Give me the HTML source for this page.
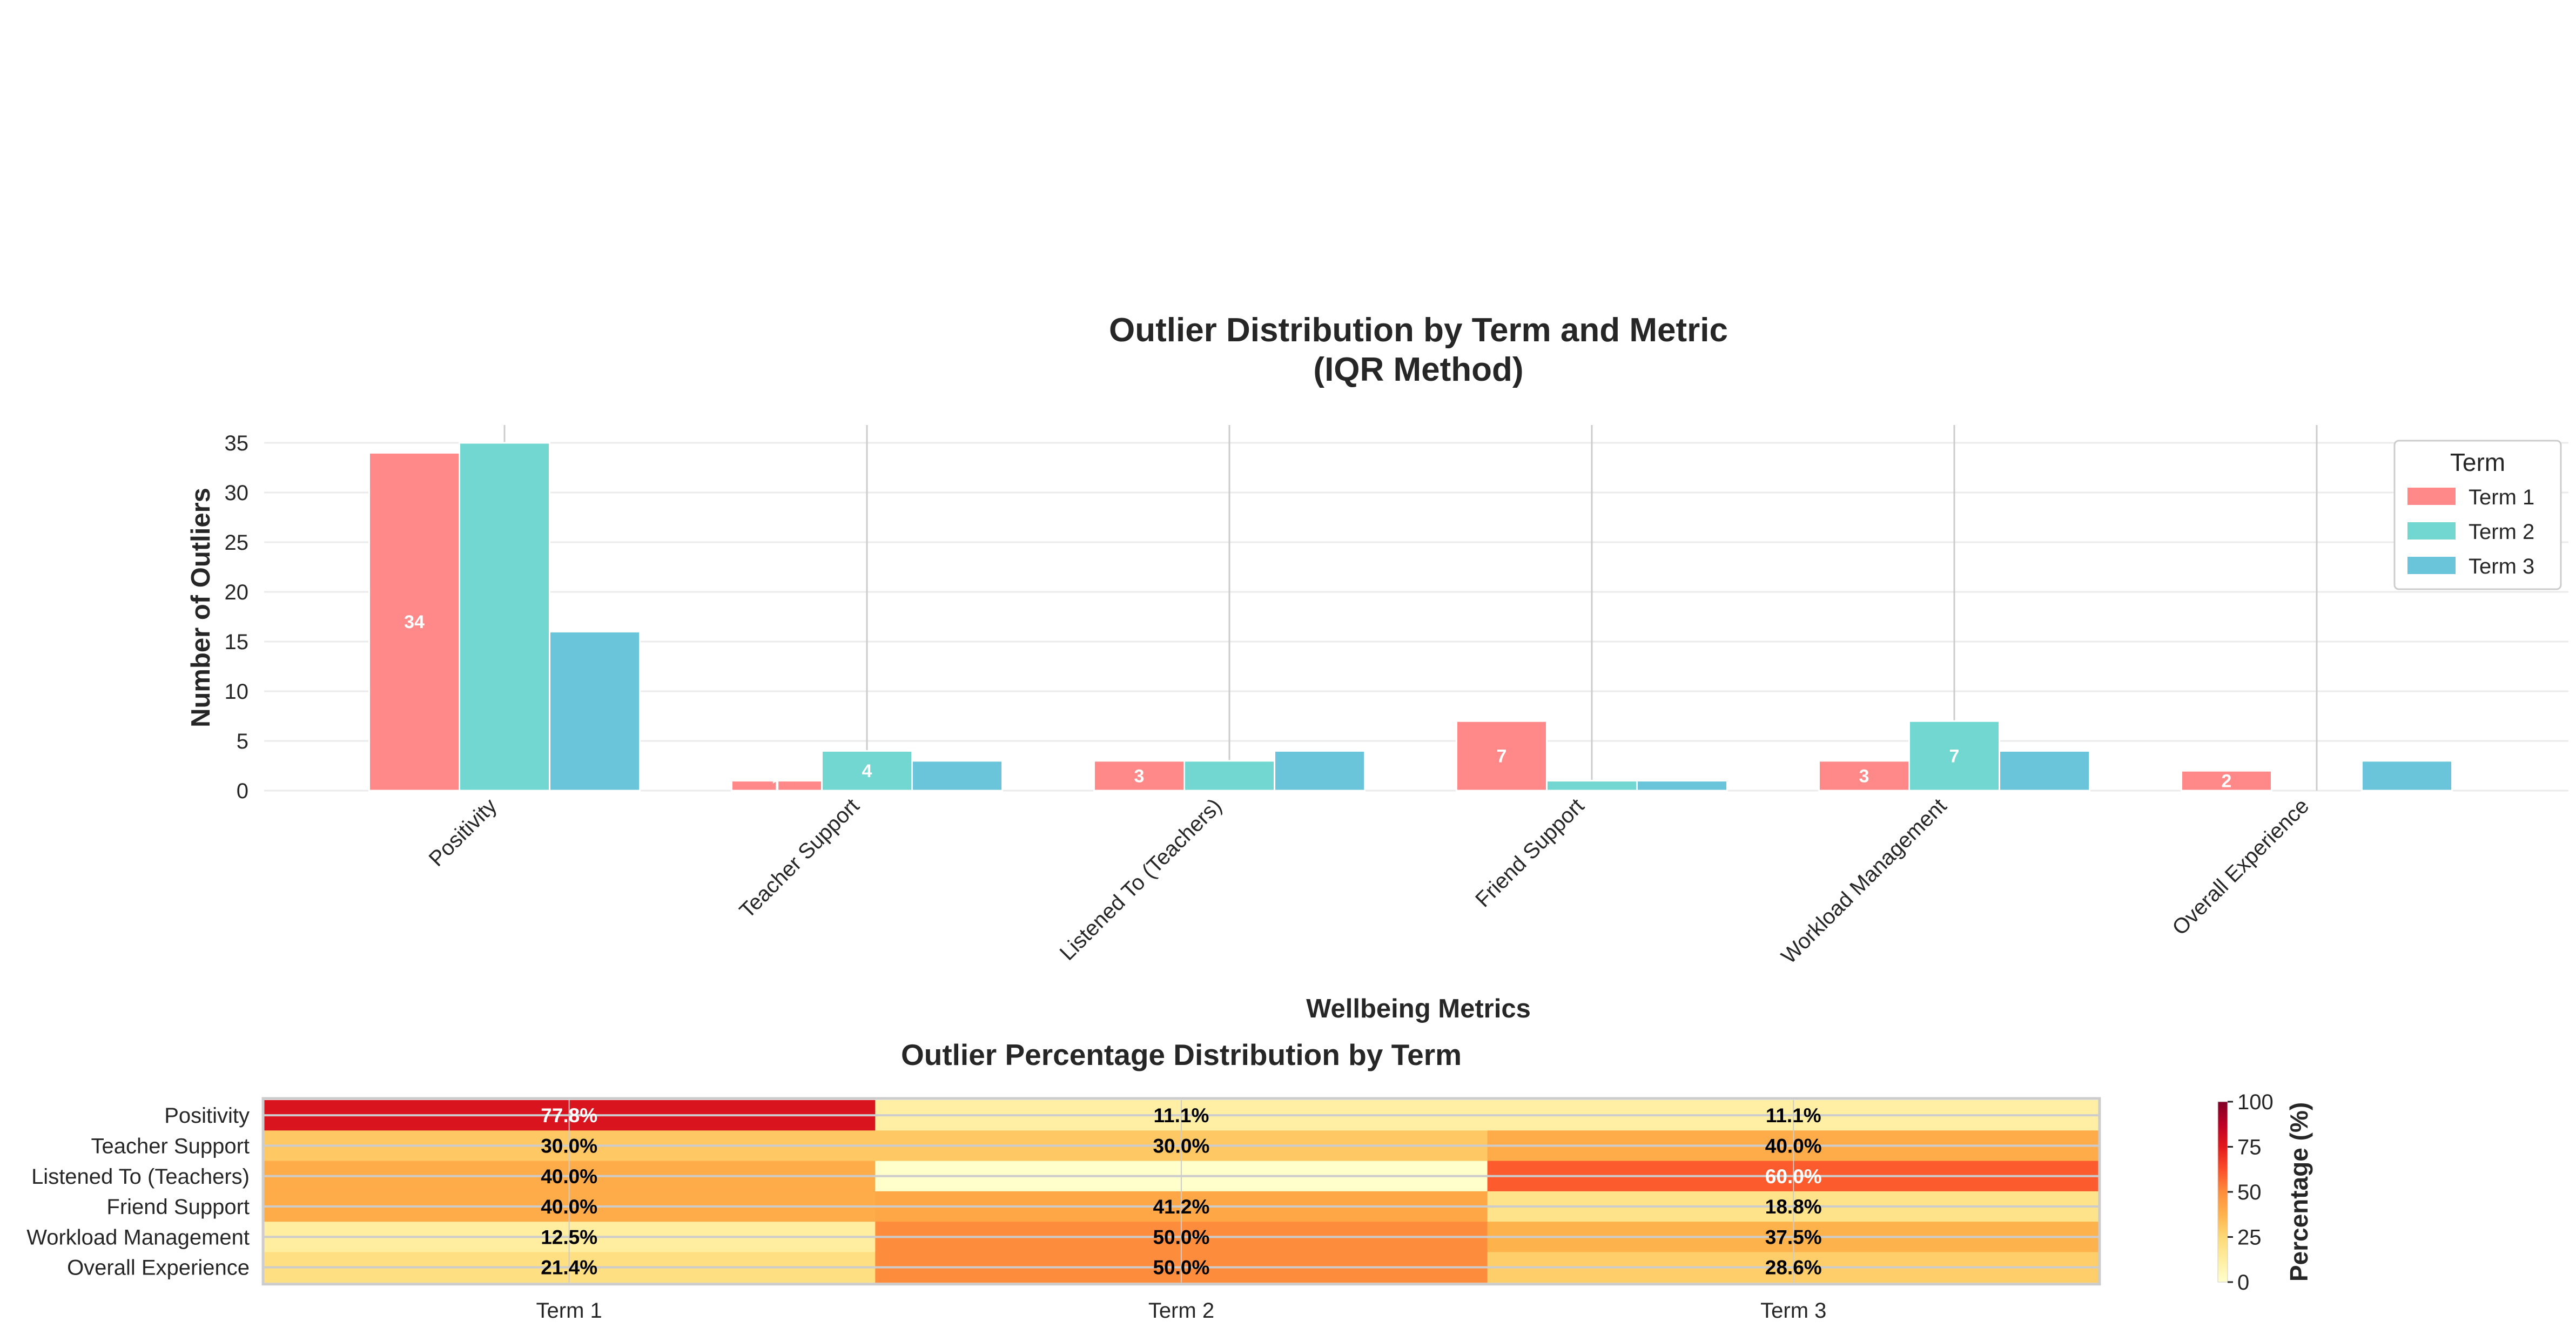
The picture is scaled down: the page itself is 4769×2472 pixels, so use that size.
<!DOCTYPE html>
<html><head><meta charset="utf-8"><style>
html,body{margin:0;padding:0;background:#fff}
svg{display:block;font-family:"Liberation Sans",Arial,sans-serif}
</style></head><body>
<svg id="chart" width="4769" height="2472" viewBox="0 0 4769 2472">
<text x="2626" y="632" text-anchor="middle" font-size="62" font-weight="bold" fill="#262626">Outlier Distribution by Term and Metric</text>
<text x="2626" y="705" text-anchor="middle" font-size="62" font-weight="bold" fill="#262626">(IQR Method)</text>
<g id="bars"></g>
<text transform="translate(388,1125) rotate(-90)" text-anchor="middle" font-size="49" font-weight="bold" fill="#262626">Number of Outliers</text>
<text x="2626" y="1884" text-anchor="middle" font-size="49" font-weight="bold" fill="#262626">Wellbeing Metrics</text>
<g>
<rect x="4433" y="816" width="308" height="275" rx="8" fill="#fff" stroke="#cccccc" stroke-width="3"/>
<text x="4587" y="872" text-anchor="middle" font-size="46" fill="#262626">Term</text>
<g id="legendItems"></g>
</g>
<text x="2187" y="1972" text-anchor="middle" font-size="55" font-weight="bold" fill="#262626">Outlier Percentage Distribution by Term</text>
<g id="heat"></g>
<defs><linearGradient id="cbar" x1="0" y1="1" x2="0" y2="0"></linearGradient></defs>
<rect x="4106" y="2040" width="18" height="334" fill="url(#cbar)" stroke="#cccccc" stroke-width="1"/>
<g id="cbTicks"></g>
<text transform="translate(4272,2207) rotate(-90)" text-anchor="middle" font-size="46" font-weight="bold" fill="#262626">Percentage (%)</text>
</svg>
<script>
const metrics = ["Positivity","Teacher Support","Listened To (Teachers)","Friend Support","Workload Management","Overall Experience"];
const terms = ["Term 1","Term 2","Term 3"];
const term1Counts = [34,1,3,7,3,2];
const term2Counts = [35,4,3,1,7,0];
const term3Counts = [16,3,4,1,4,3];
const yTicks = [0,5,10,15,20,25,30,35];
const pctTerm1 = [77.8,30.0,40.0,40.0,12.5,21.4];
const pctTerm2 = [11.1,30.0,0,41.2,50.0,50.0];
const pctTerm3 = [11.1,40.0,60.0,18.8,37.5,28.6];
const cbTickVals = [0,25,50,75,100];

const NS="http://www.w3.org/2000/svg";
function mk(tag,attrs,parent){const e=document.createElementNS(NS,tag);for(const k in attrs)e.setAttribute(k,attrs[k]);parent.appendChild(e);return e;}
const bars=document.getElementById('bars');
const x0=489,x1=4755,yZero=1464,yTop=787,unit=18.4;
const y=v=>yZero-v*unit;
const gx=i=>934+i*671;
const bw=167;
const colors=["#ff8989","#71d7d0","#6ac5da"];
const series=[term1Counts,term2Counts,term3Counts];
yTicks.forEach(t=>{
  const l=mk('line',{x1:x0,x2:x1,y1:y(t),y2:y(t),stroke:'#ebebeb','stroke-width':3},bars);
  
  
  const tx=mk('text',{x:460,y:y(t)+14,'text-anchor':'end','font-size':40,fill:'#262626'},bars);
  tx.textContent=t;
  
  
});
metrics.forEach((m,i)=>{
  const l=mk('line',{x1:gx(i),x2:gx(i),y1:yTop,y2:yZero,stroke:'#cccccc','stroke-width':3},bars);
  
  
});
series.forEach((s,k)=>{
  s.forEach((v,i)=>{
    const bx=gx(i)+(k-1)*bw-bw/2;
    const r=mk('rect',{x:bx,y:y(v),width:bw,height:v*unit,fill:colors[k],stroke:'#fff','stroke-width':3},bars);
    
    
  });
});
const labelSpec=[[0,0],[0,1],[1,1],[0,2],[0,3],[0,4],[1,4],[0,5]];
labelSpec.forEach(([k,i])=>{
  const v=series[k][i];
  const t=mk('text',{x:gx(i)+(k-1)*bw,y:y(v/2)+12,'text-anchor':'middle','font-size':34,'font-weight':'bold',fill:'#fff'},bars);
  t.textContent=v;
  
  
});
metrics.forEach((m,i)=>{
  const t=mk('text',{transform:`translate(${gx(i)-12},${1495}) rotate(-45)`,'text-anchor':'end','font-size':40,fill:'#262626'},bars);
  t.textContent=m;
  
  
});
const li=document.getElementById('legendItems');
terms.forEach((t,k)=>{
  const yy=920+k*64;
  const r=mk('rect',{x:4457,y:yy-17,width:89,height:32,fill:colors[k]},li);
  
  
  const tx=mk('text',{x:4570,y:yy+14,'font-size':40,fill:'#262626'},li);
  tx.textContent=t;
  
  
});
const stops=["#ffffcc","#ffeda0","#fed976","#feb24c","#fd8d3c","#fc4e2a","#e31a1c","#bd0026","#800026"];
function hex(c){return [1,3,5].map(i=>parseInt(c.substr(i,2),16));}
function cmap(v){const p=Math.max(0,Math.min(1,v/100))*8;const i=Math.min(7,Math.floor(p));const f=p-i;const a=hex(stops[i]),b=hex(stops[i+1]);return 'rgb('+a.map((x,j)=>Math.round(x+(b[j]-x)*f)).join(',')+')';}
const grad=document.getElementById('cbar');
stops.forEach((c,i)=>mk('stop',{offset:(i/8),'stop-color':c},grad));
const heat=document.getElementById('heat');
const hx0=487,hy0=2037,cw=1133.3,rh=56.3;
const pcts=[pctTerm1,pctTerm2,pctTerm3];
pcts.forEach((col,c)=>{
  col.forEach((v,r)=>{
    const cell=mk('rect',{x:hx0+c*cw,y:hy0+r*rh,width:cw+0.5,height:rh+0.5,fill:cmap(v)},heat);
    
    
  });
});
for(let r=0;r<6;r++){
  const l=mk('line',{x1:hx0,x2:hx0+3*cw,y1:hy0+r*rh+rh/2,y2:hy0+r*rh+rh/2,stroke:'#cccccc','stroke-width':4},heat);
  
  
}
for(let c=0;c<3;c++){
  const l=mk('line',{x1:hx0+c*cw+cw/2,x2:hx0+c*cw+cw/2,y1:hy0,y2:hy0+6*rh,stroke:'#cccccc','stroke-width':2},heat);
  
  
}
const br=mk('rect',{x:hx0,y:hy0-3,width:3*cw,height:6*rh+6,fill:'none',stroke:'#cccccc','stroke-width':5},heat);


pcts.forEach((col,c)=>{
  col.forEach((v,r)=>{
    if(v===0)return;
    const t=mk('text',{x:hx0+c*cw+cw/2,y:hy0+r*rh+rh/2+13,'text-anchor':'middle','font-size':37,'font-weight':'bold',fill:v>55?'#fff':'#000'},heat);
    t.textContent=v.toFixed(1)+'%';
    
    
  });
});
metrics.forEach((m,r)=>{
  const t=mk('text',{x:462,y:hy0+r*rh+rh/2+14,'text-anchor':'end','font-size':40,fill:'#262626'},heat);
  t.textContent=m;
  
  
});
terms.forEach((tm,c)=>{
  const t=mk('text',{x:hx0+c*cw+cw/2,y:2440,'text-anchor':'middle','font-size':40,fill:'#262626'},heat);
  t.textContent=tm;
  
  
});
const cbt=document.getElementById('cbTicks');
cbTickVals.forEach(v=>{
  const yy=2374-v/100*334;
  const l=mk('line',{x1:4124,x2:4134,y1:yy,y2:yy,stroke:'#262626','stroke-width':3},cbt);
  
  
  const t=mk('text',{x:4142,y:yy+14,'font-size':40,fill:'#262626'},cbt);
  t.textContent=v;
  
  
});
</script>
</body></html>
